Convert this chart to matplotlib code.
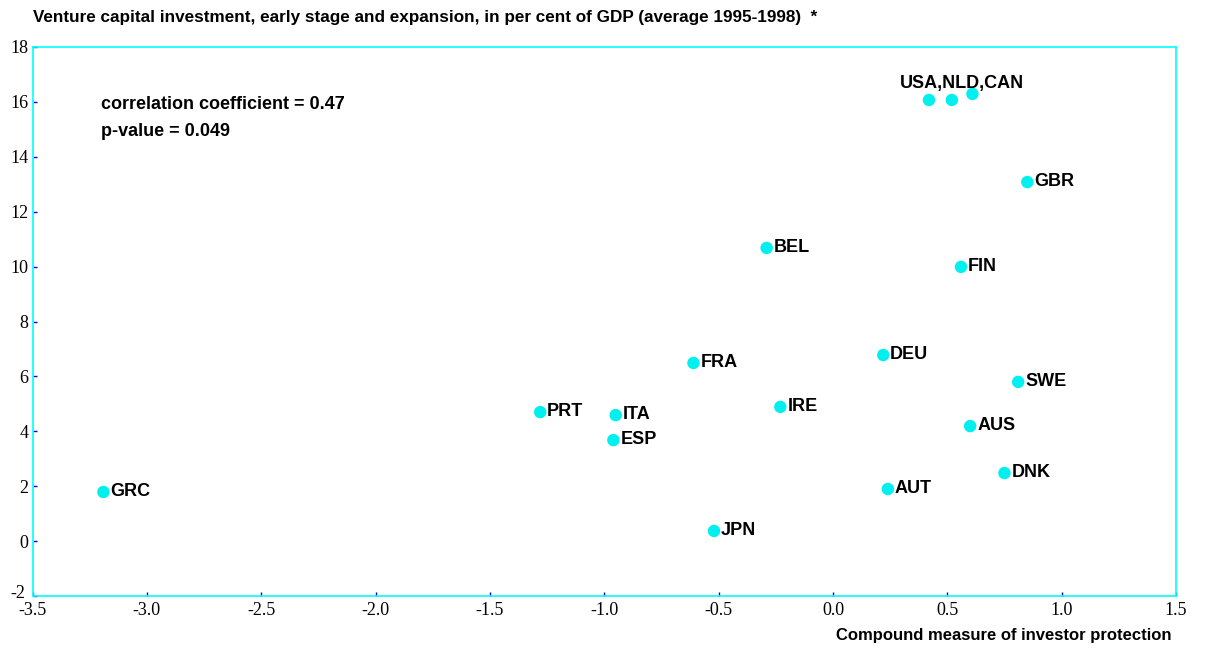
import matplotlib.pyplot as plt
import matplotlib.transforms as mtransforms

plt.rcParams["axes.unicode_minus"] = False

# values
countries = ["GRC", "PRT", "ITA", "ESP", "FRA", "JPN", "BEL", "IRE", "DEU", "AUT",
             "USA", "NLD", "CAN", "FIN", "AUS", "DNK", "SWE", "GBR"]
investor_protection = [-3.19, -1.28, -0.95, -0.96, -0.61, -0.52, -0.29, -0.23, 0.22, 0.24,
                       0.42, 0.52, 0.61, 0.56, 0.60, 0.75, 0.81, 0.85]
venture_capital = [1.79, 4.70, 4.59, 3.68, 6.49, 0.37, 10.68, 4.89, 6.78, 1.90,
                   16.07, 16.07, 16.29, 9.99, 4.19, 2.48, 5.80, 13.08]
grouped = ["USA", "NLD", "CAN"]

fig = plt.figure(figsize=(12.09, 6.48), dpi=100)
ax = fig.add_axes([0.0269, 0.0802, 0.9458, 0.8473])

ax.scatter(investor_protection, venture_capital, s=80, color="#00f0f0", zorder=3,
           edgecolors="none")

bold = dict(family="Liberation Sans", fontweight="bold", fontsize=13)
for name, x, y in zip(countries, investor_protection, venture_capital):
    if name in grouped:
        continue
    ax.annotate(name, (x, y), xytext=(5, 0.5), textcoords="offset points",
                va="center", ha="left", **bold)

# the three overlapping points share one label
i = countries.index("USA")
ax.annotate(",".join(grouped), (investor_protection[i], venture_capital[i]),
            xytext=(-21, 11.5), textcoords="offset points", va="center", ha="left", **bold)

ax.text(0.0595, 0.895, "correlation coefficient = 0.47", transform=ax.transAxes,
        va="center", ha="left", **bold)
ax.text(0.0595, 0.846, "p-value = 0.049", transform=ax.transAxes,
        va="center", ha="left", **bold)

ax.set_xlim(-3.5, 1.5)
ax.set_ylim(-2, 18)
ax.set_xticks([-3.5, -3.0, -2.5, -2.0, -1.5, -1.0, -0.5, 0.0, 0.5, 1.0, 1.5])
ax.set_xticklabels([f"{v:.1f}" for v in ax.get_xticks()])
ax.set_yticks(range(-2, 19, 2))
for s in ax.spines.values():
    s.set_color("#00ffff")
    s.set_linewidth(1.2)
ax.tick_params(direction="in", length=3, color="blue", width=1, labelsize=13)
ax.tick_params(axis="x", pad=4)
ax.tick_params(axis="y", pad=3)
for lab in ax.get_xticklabels() + ax.get_yticklabels():
    lab.set_family("Liberation Serif")

# lift the bottom y label a little so it clears "-3.5", as in the original
first = ax.get_yticklabels()[0]
first.set_transform(first.get_transform() +
                    mtransforms.ScaledTranslation(-2 / 72, 3 / 72, fig.dpi_scale_trans))

fig.text(0.0273, 0.973, "Venture capital investment, early stage and expansion, in per cent of GDP (average 1995-1998)  *",
         ha="left", va="center", family="Liberation Sans", fontweight="bold", fontsize=12.3)
fig.text(0.969, 0.02, "Compound measure of investor protection", ha="right", va="center",
         family="Liberation Sans", fontweight="bold", fontsize=12)

fig.savefig("out.png", dpi=100)
